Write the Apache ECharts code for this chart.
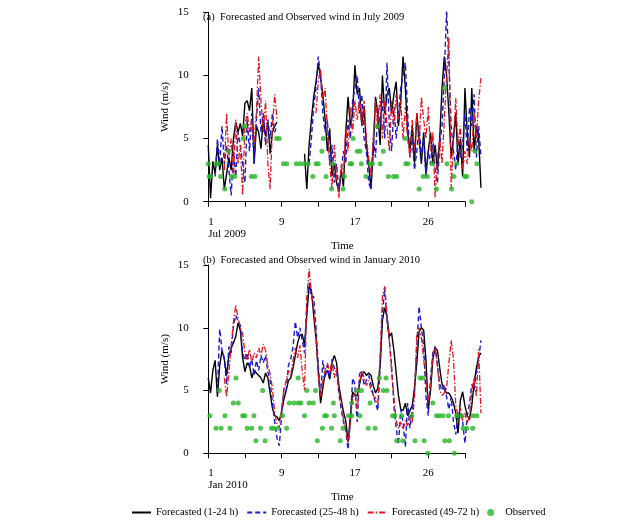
<!DOCTYPE html>
<html><head><meta charset="utf-8">
<script src="https://cdn.jsdelivr.net/npm/echarts@6/dist/echarts.min.js"></script>
<style>html,body{margin:0;padding:0;background:#fff}#c{width:643px;height:520px}</style>
</head><body><div id="c"></div>
<script>
// time grid: day of month, 6-hourly steps
const startDay = 1, stepDay = 0.25;
const N = null;
const julF1 = [4.5,0.3,3.2,2.2,4.5,2.5,3.5,1.0,2.2,3.5, 2.5,5.0,6.3,5.5,6.2,5.2,7.8,8.0,7.2,9.0,
  3.0,6.0,5.5,4.2,6.5,5.2,6.3,3.8,5.5,6.0,6.3, N,N,N,N,N,N,N,N,N,N,N,
  3.8,1.0,4.5,6.5,8.3,9.5,11.0,9.8, 8.5,6.5,4.0,5.8,2.0,3.0,1.5,0.8,2.5,1.2,
  5.5,8.3,6.0,7.0,10.8,8.5,9.0,6.0,7.5,4.5, 3.0,1.0,4.0,8.3,7.0,4.5,10.0,7.0,8.5,9.0,
  7.0,8.5,9.5,6.0,8.0,11.5,9.0,5.5,4.0,6.0, 3.0,7.0,5.0,3.0,5.5,2.2,4.0,5.5,3.0,4.5,
  2.5,5.0,9.0,11.5,10.0,7.0,3.5,5.0,7.0,3.0, 5.0,2.0,9.0,5.5,3.5,9.0,4.0,6.0,5.0,1.1];
const julF2 = [N,N,N, 2.0,5.0,3.0,6.0,3.0,4.5,2.5, 0.5,4.0,2.0,5.5,4.5,3.0,1.5,6.5,4.0,7.0,
  3.0,6.5,9.0,5.5,7.0,4.5,6.5,5.0,7.0,5.5,6.0, N,N,N,N,N,N,N,N,N,N,N,N,N,
  3.0,5.0,7.5,9.0,11.5,10.0, 7.0,5.5,6.5,3.0,4.5,1.5,3.0,0.8,2.5,4.0,
  3.0,6.5,5.0,8.0,9.0,10.0,7.0,8.5,5.0,4.0, 1.5,1.0,5.0,3.5,7.5,6.0,8.0,5.0,11.0,6.0,
  4.0,7.5,5.0,7.0,9.0,10.0,11.0,7.0,3.5,5.0, 2.5,4.0,6.0,3.5,5.0,2.0,4.0,3.0,5.0,2.5,
  1.5,4.5,6.0,10.0,15.2,11.0,6.0,4.0,2.5,5.0, 3.5,4.5,7.0,4.0,7.5,6.0,8.5,3.5,6.0,3.5];
const julF3 = [N,N,N,N,N,N,N, 2.5,7.0,3.5, 5.0,2.0,6.5,3.0,4.5,0.5,6.0,7.0,5.5,6.5,
  4.5,7.0,11.5,8.0,5.5,8.0,3.0,1.0,6.0,8.5,6.5, N,N,N,N,N,N,N,N,N,N,N,N,N,N,N,N,
  7.0,9.5,10.5, 8.0,9.0,5.5,3.0,1.0,4.5,2.0,0.3,3.0,2.0,
  6.0,4.0,7.5,5.5,8.0,6.5,8.0,6.0,8.0,5.0, 3.5,2.0,5.0,8.0,6.0,8.5,5.0,8.0,6.0,4.0,
  8.0,6.0,8.5,6.5,8.0,5.0,7.5,5.0,3.5,6.5, 4.0,7.0,4.5,8.3,6.5,5.0,7.5,4.0,5.5,0.3,
  3.5,5.0,3.0,6.5,10.0,13.0,1.0,5.0,8.2,4.5, 6.0,2.5,4.0,3.0,5.0,4.0,7.0,5.0,8.0,9.8];
const obsJulDay = [1.0,1.1,1.25,1.85,2.1,2.35,2.8,3.2,3.55,3.9,4.8,5.0,5.7,6.1,8.45,8.75,9.2,9.55,10.6,11.0,11.45,11.9,12.4,12.75,13.0,13.4,13.55,13.85,14.45,14.6,15.7,15.85,16.45,16.65,16.8,17.25,17.55,17.7,18.2,18.65,18.9,19.4,19.75,20.1,20.65,21.2,21.55,22.45,22.55,22.8,24.0,24.45,24.9,25.4,25.9,26.8,27.05,27.55,27.8,28.1,29.0,29.2,29.75,30.1,30.3];
const obsJulVal = [3,2,2,3,3,2,1,4,2,2,5,6,2,2,5,5,3,3,3,3,3,3,2,3,3,4,5,2,1,3,1,2,3,3,5,4,4,3,2,3,3,6,3,4,2,2,2,5,3,3,1,2,2,3,1,9,3,1,2,3,2,2,0,4,3];

const janF1 = [6.0,4.8,6.6,7.4,4.5,7.0,8.2,7.5,6.2,7.8, 8.4,8.8,9.3,10.4,9.8,7.6,6.5,7.2,7.0,6.0,
  6.6,6.4,6.2,6.0,5.6,6.4,6.0,4.8,3.6,3.0, 2.9,2.6,3.3,4.3,5.0,5.8,6.0,6.8,7.8,8.8,
  9.4,9.5,8.6,11.0,13.3,13.0,11.0,9.2,6.6,4.0, 5.2,6.4,6.6,5.9,7.2,7.8,7.2,5.4,4.3,3.3,
  2.6,0.9,2.9,4.9,4.6,4.6,5.5,6.3,6.5,6.2, 6.4,6.2,5.4,4.8,5.2,7.0,10.6,11.6,10.9,9.3,
  9.6,8.2,6.4,4.6,3.5,3.4,4.0,3.0,3.4,3.8, 5.2,7.2,9.7,10.0,9.8,7.4,3.5,5.0,7.5,8.4,
  8.2,6.8,5.5,5.1,4.8,4.8,4.5,4.0,3.2,1.6, 4.2,4.9,3.8,3.0,2.7,3.8,5.6,6.8,7.7,8.0];
const janF2 = [N,N,N,N, 5.0,9.9,8.2,7.6,5.5,8.5, 8.0,10.2,11.0,10.5,10.2,8.0,7.4,8.0,6.8,7.5,
  6.2,7.4,6.6,7.8,7.2,7.8,6.5,5.8,4.0,2.5, 1.2,0.6,3.0,5.2,5.0,7.0,7.5,8.5,10.5,9.2,
  10.0,9.0,8.0,12.0,13.6,12.4,12.5,10.0,7.0,4.5, 7.4,6.0,7.0,6.0,7.5,6.8,6.5,4.8,3.5,2.5,
  1.8,0.3,2.5,6.0,5.5,2.5,6.3,6.6,5.4,5.8, 6.2,5.5,4.6,4.0,3.4,7.0,11.0,13.2,10.5,9.0,
  7.0,3.8,2.0,0.7,3.5,2.5,0.5,4.0,2.0,3.5, 5.0,8.5,11.7,10.0,8.5,4.5,3.0,6.0,8.0,8.5,
  7.0,5.5,5.0,5.5,4.5,3.5,4.5,2.5,1.5,3.0, 3.5,2.5,0.8,3.0,4.0,5.5,5.0,6.5,7.5,9.0];
const janF3 = [N,N,N,N,N,N,N, 6.0,4.5,6.5, 8.6,10.5,11.8,10.8,10.0,9.5,8.0,7.4,8.3,7.2,
  8.0,7.6,8.4,7.8,8.7,8.2,7.0,6.3,5.2,3.2, 2.3,2.0,3.6,5.0,5.8,6.6,6.2,7.4,8.4,7.6,
  8.6,6.5,5.0,12.4,14.7,12.8,11.5,9.5,6.2,4.5, 5.8,6.6,7.2,6.4,7.2,6.0,6.8,5.0,4.0,2.8,
  1.8,0.8,2.4,4.4,4.8,3.5,5.6,6.6,6.0,5.4, 5.8,5.0,4.6,4.4,3.9,8.0,12.5,13.3,11.0,9.0,
  6.5,4.5,2.6,2.0,2.5,1.9,2.6,2.2,3.0,2.4, 4.5,9.5,10.0,9.2,7.5,6.0,4.0,5.5,7.8,8.5,
  7.0,5.0,4.6,4.8,5.2,7.2,9.0,7.5,3.8,3.0, 3.6,2.6,3.2,2.4,3.0,5.0,6.0,4.5,8.3,3.2];
const obsJanDay = [1.18,1.84,2.2,2.4,2.82,3.37,3.73,4.02,4.27,4.75,5.0,5.25,5.73,5.98,6.2,6.7,6.93,7.2,7.9,8.1,8.6,9.1,9.55,9.85,10.35,10.8,10.8,11.1,11.5,11.75,12.0,12.45,12.7,12.9,13.45,13.7,13.9,14.45,14.65,14.75,15.4,15.7,16.3,16.65,16.65,17.2,17.55,17.7,18.45,18.65,19.2,19.65,20.1,20.4,20.5,21.1,21.35,21.55,22.1,22.2,23.2,23.55,24.1,24.4,24.55,24.95,25.5,25.9,26.2,26.6,26.8,27.2,27.3,27.85,28.1,28.65,28.8,29.2,29.85,29.9,30.3];
const obsJanVal = [3,2,5,2,3,2,4,6,4,3,3,2,2,3,1,2,5,1,2,2,2,3,2,4,4,4,6,4,3,5,4,4,5,1,2,3,3,2,4,3,1,2,3,3,4,5,3,5,2,4,2,6,5,6,5,3,3,1,3,1,3,1,6,6,1,0,4,3,3,3,1,3,1,0,3,3,2,2,2,3,3];

// tick labels (display axis counts days from the 1st)
const tickOffsets = [0, 8, 16, 24];
const julTickTexts = ['1\nJul 2009', '9', '17', '26'];
const janTickTexts = ['1\nJan 2010', '9', '17', '26'];
const names = ['Forecasted (1-24 h)', 'Forecasted (25-48 h)', 'Forecasted (49-72 h)', 'Observed'];

const FONT = 'Liberation Serif';
const pairs = arr => arr.map((v, i) => [startDay + i * stepDay, v]);
const obsPairs = (d, v) => d.map((x, i) => [x, v[i]]);

const chart = echarts.init(document.getElementById('c'), null, {renderer: 'canvas'});
const txt = {fontFamily: FONT, fontSize: 11, color: '#000'};
const txtS = {fontFamily: FONT, fontSize: 10.5, color: '#000'};
const dataX = (gi) => ({gridIndex: gi, type: 'value', min: -0.25, max: 31.5,
  axisLine: {show: false}, axisTick: {show: false}, axisLabel: {show: false}, splitLine: {show: false},
  name: 'Time', nameLocation: 'middle', nameGap: 38.5, nameTextStyle: txt});
const dispX = (gi, texts) => ({gridIndex: gi, type: 'value', min: 0, max: 28, interval: 4, offset: 8.3,
  axisLine: {show: true, lineStyle: {color: '#000', width: 1}},
  axisTick: {show: true, length: 5, lineStyle: {color: '#000'}},
  splitLine: {show: false},
  axisLabel: Object.assign({margin: 6, lineHeight: 12, alignMinLabel: 'left',
    formatter: v => { const k = tickOffsets.indexOf(Math.round(v)); return k >= 0 ? texts[k] : ''; }}, txt)});
const dataY = (gi) => ({gridIndex: gi, type: 'value', min: 0, max: 15, show: false, splitLine: {show: false}});
const dispY = (gi) => ({gridIndex: gi, type: 'value', min: 0, max: 15, interval: 5, offset: 11.6,
  axisLine: {show: true, lineStyle: {color: '#000', width: 1}},
  axisTick: {show: true, length: 5, lineStyle: {color: '#000'}},
  splitLine: {show: false},
  axisLabel: Object.assign({margin: 8}, txt),
  name: 'Wind (m/s)', nameLocation: 'middle', nameGap: 26, nameTextStyle: txt});

const lineS = (name, data, xi, color, type, w) => ({name, type: 'line', xAxisIndex: xi, yAxisIndex: xi,
  data, symbol: 'none', connectNulls: false, animation: false,
  lineStyle: {color, width: w, type}, itemStyle: {color}});
const GREEN = '#25b525';
const obsS = (data, xi) => ({name: names[3], type: 'scatter', xAxisIndex: xi, yAxisIndex: xi, data,
  symbol: 'circle', symbolSize: 5, itemStyle: {color: GREEN}, z: 5, animation: false});

const BLUE = '#1a1ac8', RED = '#e3161b';
const dashB = [5, 3], dashR = [6, 2, 1.5, 2];
chart.setOption({
  backgroundColor: '#fff',
  animation: false,
  title: [
    {text: '(a)  Forecasted and Observed wind in July 2009', left: 203, top: 12, padding: 0, textStyle: Object.assign({fontWeight: 'normal'}, txtS)},
    {text: '(b)  Forecasted and Observed wind in January 2010', left: 203, top: 255, padding: 0, textStyle: Object.assign({fontWeight: 'normal'}, txtS)}
  ],
  grid: [
    {left: 196.8, width: 291.05, top: 12.3, height: 189.4},
    {left: 208.3, width: 256.7, top: 12.3, height: 189.4},
    {left: 196.8, width: 291.05, top: 265, height: 188.3},
    {left: 208.3, width: 256.7, top: 265, height: 188.3}
  ],
  xAxis: [dataX(0), dispX(1, julTickTexts), dataX(2), dispX(3, janTickTexts)],
  yAxis: [dataY(0), dispY(1), dataY(2), dispY(3)],
  legend: {left: 126, top: 502, padding: 5, itemWidth: 19, itemHeight: 7, itemGap: 8,
    data: [
      {name: names[0], itemStyle: {opacity: 0}},
      {name: names[1], itemStyle: {opacity: 0}},
      {name: names[2], itemStyle: {opacity: 0}},
      {name: names[3]}
    ],
    textStyle: txtS, selectedMode: false},
  series: [
    lineS(names[0], pairs(julF1), 0, '#000', 'solid', 1.4),
    lineS(names[1], pairs(julF2), 0, BLUE, dashB, 1.4),
    lineS(names[2], pairs(julF3), 0, RED, dashR, 1.3),
    obsS(obsPairs(obsJulDay, obsJulVal), 0),
    lineS(names[0], pairs(janF1), 2, '#000', 'solid', 1.4),
    lineS(names[1], pairs(janF2), 2, BLUE, dashB, 1.4),
    lineS(names[2], pairs(janF3), 2, RED, dashR, 1.3),
    obsS(obsPairs(obsJanDay, obsJanVal), 2)
  ]
});
</script></body></html>
